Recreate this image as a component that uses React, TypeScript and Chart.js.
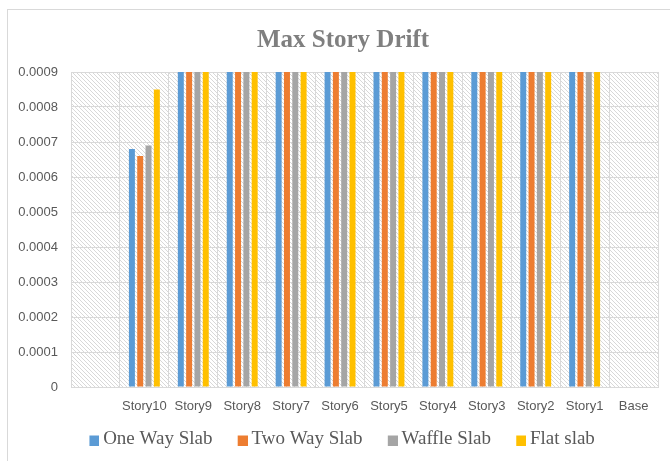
import React, { useEffect, useRef } from "react";
import { Chart, registerables } from "chart.js";

Chart.register(...registerables);

const chartTitle = "Max Story Drift";
const categories = ["", "Story10", "Story9", "Story8", "Story7", "Story6", "Story5", "Story4", "Story3", "Story2", "Story1", "Base"];
const oneWaySlab = [null, 0.00068, 0.0021, 0.0024, 0.0026, 0.0027, 0.0028, 0.0028, 0.0027, 0.0024, 0.0017, null];
const twoWaySlab = [null, 0.00066, 0.0020, 0.0023, 0.0025, 0.0026, 0.0027, 0.0027, 0.0026, 0.0023, 0.0016, null];
const waffleSlab = [null, 0.00069, 0.0020, 0.0023, 0.0025, 0.0027, 0.0027, 0.0027, 0.0026, 0.0023, 0.0016, null];
const flatSlab = [null, 0.00085, 0.0025, 0.0029, 0.0031, 0.0033, 0.0034, 0.0034, 0.0032, 0.0029, 0.0021, null];
const yTicks = [0, 0.0001, 0.0002, 0.0003, 0.0004, 0.0005, 0.0006, 0.0007, 0.0008, 0.0009];

const seriesNames = ["One Way Slab", "Two Way Slab", "Waffle Slab", "Flat slab"];
const seriesColors = ["#5B9BD5", "#ED7D31", "#A5A5A5", "#FFC000"];

function makeHatch(): CanvasPattern | string {
  const c = document.createElement("canvas");
  c.width = 4;
  c.height = 4;
  const g = c.getContext("2d");
  if (!g) return "#ffffff";
  g.fillStyle = "#ffffff";
  g.fillRect(0, 0, 4, 4);
  g.fillStyle = "#d8d8d8";
  for (let i = 0; i < 4; i++) {
    g.fillRect(i, i, 1, 1);
  }
  const p = g.createPattern(c, "repeat");
  return p || "#ffffff";
}

function makeLegendSquare(color: string): HTMLCanvasElement {
  const c = document.createElement("canvas");
  c.width = 28;
  c.height = 12;
  const g = c.getContext("2d");
  if (g) {
    g.fillStyle = color;
    g.fillRect(18, 2, 10, 10);
  }
  return c;
}

const framePlugin = {
  id: "framePlugin",
  beforeDraw(chart: any) {
    const { ctx, chartArea } = chart;
    ctx.save();
    ctx.strokeStyle = "#d9d9d9";
    ctx.lineWidth = 1;
    ctx.strokeRect(7.5, 9.5, 800, 600);
    ctx.fillStyle = makeHatch();
    ctx.fillRect(chartArea.left, chartArea.top, chartArea.right - chartArea.left, chartArea.bottom - chartArea.top);
    ctx.fillStyle = "#7f7f7f";
    ctx.font = "bold 25px 'Liberation Serif', 'Times New Roman', serif";
    ctx.textAlign = "center";
    ctx.textBaseline = "middle";
    ctx.fillText(chartTitle, 343, 41);
    ctx.restore();
  },
};

export default function App() {
  const ref = useRef<HTMLCanvasElement | null>(null);
  useEffect(() => {
    if (!ref.current) return;
    const datas = [oneWaySlab, twoWaySlab, waffleSlab, flatSlab];
    const squares = seriesColors.map((c) => makeLegendSquare(c));
    const chart = new Chart(ref.current, {
      type: "bar",
      data: {
        labels: categories,
        datasets: datas.map((d, i) => ({
          label: seriesNames[i],
          data: d,
          backgroundColor: seriesColors[i],
          borderWidth: 0,
          categoryPercentage: 0.68,
          barPercentage: 0.72,
        })),
      },
      options: {
        responsive: false,
        animation: false,
        layout: { padding: { left: 14, right: 12, top: 72, bottom: 2 } },
        plugins: {
          title: { display: false },
          legend: {
            position: "bottom",
            labels: {
              color: "#595959",
              font: { family: "'Liberation Serif', 'Times New Roman', serif", size: 19 },
              usePointStyle: true,
              pointStyleWidth: 16.5,
              boxHeight: 10,
              padding: 13,
              generateLabels: (ch: any) => {
                const items = (Chart.defaults as any).plugins.legend.labels.generateLabels(ch);
                return items.map((it: any, i: number) => ({ ...it, pointStyle: squares[i] }));
              },
            },
          },
          tooltip: { enabled: false },
        },
        scales: {
          x: {
            afterFit(scale: any) {
              scale.height = 30;
            },
            grid: { color: "#d9d9d9", drawTicks: false, offset: true },
            border: { color: "#d9d9d9" },
            ticks: {
              color: "#595959",
              font: { family: "'Liberation Sans', Arial, sans-serif", size: 13 },
              padding: 12,
              maxRotation: 0,
            },
          },
          y: {
            min: 0,
            max: 0.0009,
            afterFit(scale: any) {
              scale.width = 57;
            },
            afterBuildTicks(scale: any) {
              scale.ticks = yTicks.map((v) => ({ value: v }));
            },
            grid: { color: "#d9d9d9", drawTicks: false },
            border: { color: "#d9d9d9" },
            ticks: {
              color: "#595959",
              font: { family: "'Liberation Sans', Arial, sans-serif", size: 13 },
              padding: 13,
              callback: (v: any) => (Number(v) === 0 ? "0" : Number(v).toFixed(4)),
            },
          },
        },
      },
      plugins: [framePlugin],
    });
    return () => chart.destroy();
  }, []);
  return (
    <div style={{ position: "absolute", left: 0, top: 0, width: 670, height: 461 }}>
      <canvas ref={ref} width={670} height={461} />
    </div>
  );
}
